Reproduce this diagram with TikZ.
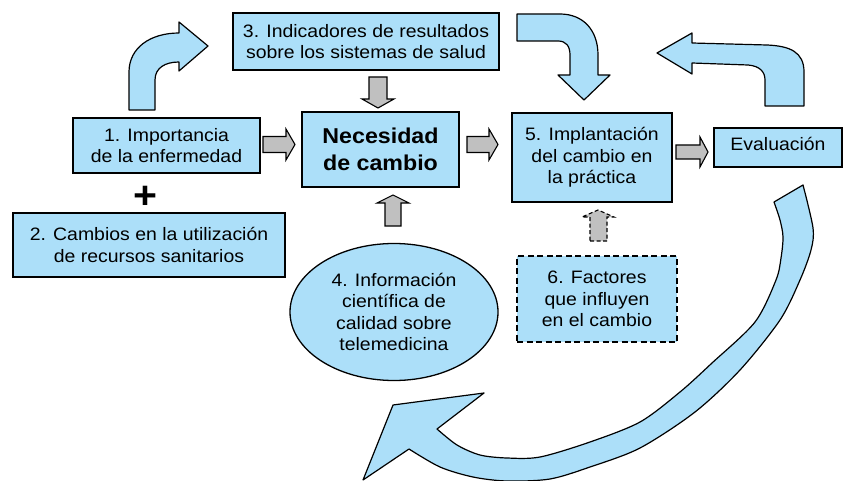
\documentclass[tikz,border=0pt]{standalone}
\usepackage{fontspec}
\setmainfont[FakeStretch=1.08]{Liberation Sans}
\usetikzlibrary{shapes.geometric}
\definecolor{boxblue}{RGB}{172,223,249}
\definecolor{arrgray}{RGB}{192,192,192}
\tikzset{
  box/.style={draw=black, line width=1.3pt, fill=boxblue, align=center, inner sep=0pt,
    font=\fontsize{18}{21.5}\selectfont},
  bluearrow/.style={draw=black, line width=1.2pt, fill=boxblue, line join=round},
  grayarrow/.style={draw=black, line width=1.1pt, fill=arrgray, line join=miter},
}
\begin{document}
\begin{tikzpicture}[x=1pt,y=-1pt]
\useasboundingbox (0,0) rectangle (845,481);
% nodes
\node[box, minimum width=187, minimum height=55] (b1) at (166.5,145.5) {1. Importancia\\de la enfermedad};
\node[box, minimum width=272, minimum height=64] (b2) at (149,245) {2. Cambios en la utilización\\de recursos sanitarios};
\node[box, minimum width=266, minimum height=57] (b3) at (366,41.5) {3. Indicadores de resultados\\sobre los sistemas de salud};
\node[box, minimum width=157, minimum height=75, font=\fontsize{21.5}{27}\selectfont\bfseries] (nec) at (380.5,149.5) {Necesidad\\de cambio};
\node[box, minimum width=160, minimum height=89] (b5) at (592,157.5) {5. Implantación\\del cambio en\\la práctica};
\node[box, minimum width=128, minimum height=39] (ev) at (778,147.5) {};
\node[font=\fontsize{18}{21.5}\selectfont, inner sep=0pt] (evt) at (778,143.5) {Evaluación};
\node[box, ellipse, minimum width=208, minimum height=137] (b4) at (394,312) {4. Información\\científica de\\calidad sobre\\telemedicina};
\node[box, dash pattern=on 6pt off 3.5pt, minimum width=160, minimum height=86] (b6) at (597,299) {6. Factores\\que influyen\\en el cambio};
\node[inner sep=0pt, font=\fontsize{38}{38}\selectfont\bfseries] (plus) at (145,197) {+};
% gray block arrows
\draw[grayarrow] (263,136.5) -- (286,136.5) -- (286,129) -- (295,144.5) -- (286,160) -- (286,152.5) -- (263,152.5) -- cycle;
\draw[grayarrow] (467,136.5) -- (489,136.5) -- (489,129) -- (498,144.5) -- (489,160) -- (489,152.5) -- (467,152.5) -- cycle;
\draw[grayarrow] (676,145) -- (700,145) -- (700,137) -- (708,152) -- (700,167) -- (700,159) -- (676,159) -- cycle;
\draw[grayarrow] (369,77) -- (387,77) -- (387,99) -- (394,99) -- (378,108) -- (362,99) -- (369,99) -- cycle;
\draw[grayarrow] (385,226) -- (401,226) -- (401,203) -- (409,203) -- (393,195) -- (377,203) -- (385,203) -- cycle;
\draw[grayarrow, dash pattern=on 4pt off 2.5pt] (590,241) -- (607,241) -- (607,217) -- (614,217) -- (598,210) -- (582,217) -- (590,217) -- cycle;
% top-left curved arrow
\draw[bluearrow] (129,110) -- (129,72) .. controls (129,48) and (150,33) .. (179,33) -- (179,22) -- (208,46) -- (179,71) -- (179,62) .. controls (165,62) and (155,68) .. (155,80) -- (155,110) -- cycle;
% top-middle curved arrow
\draw[bluearrow] (517,14) -- (560,14) .. controls (583,14) and (598,30) .. (598,55) -- (598,75) -- (610,75) -- (584,100) -- (558,75) -- (570,75) -- (570,55) .. controls (570,46) and (566,41) .. (558,41) -- (517,41) -- cycle;
% top-right curved arrow
\draw[bluearrow] (804,106) -- (804,72) .. controls (804,52) and (790,46) .. (767,45) -- (692,43) -- (692,33) -- (657,53) -- (692,74) -- (692,63) -- (748,65) .. controls (760,66) and (765,72) .. (765,80) -- (765,106) -- cycle;
% big bottom curved arrow
\draw[bluearrow] (803,185) -- (774,202) -- plot[smooth] coordinates {(774,202) (780,220) (783,237) (781,258) (776,280) (755,322) (712,363) (680,392) (640,422) (590,442) (540,457) (507,458) (480,455) (457,445) (437,429)} -- (484,393) -- (393,405) -- (363,480) -- (409,449) -- plot[smooth] coordinates {(409,449) (440,467) (473,477) (507,481) (550,479) (590,467) (640,448) (695,412) (740,370) (780,320) (800,280) (811,250) (813,228) (803,185)} -- cycle;
\end{tikzpicture}
\end{document}
